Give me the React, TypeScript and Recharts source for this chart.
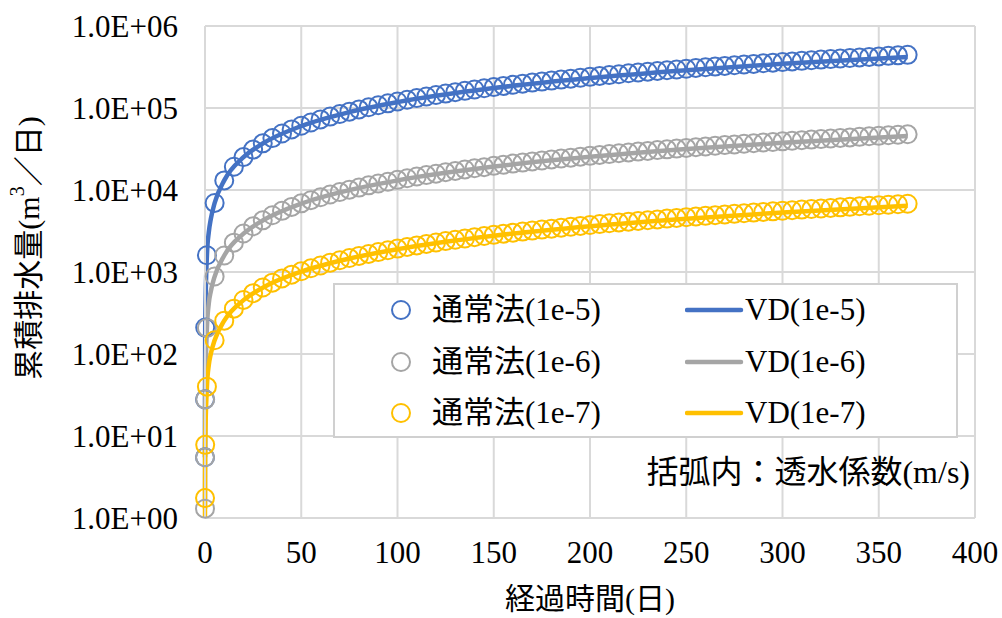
import {
  ComposedChart,
  Line,
  Scatter,
  XAxis,
  YAxis,
  CartesianGrid,
  Legend,
} from 'recharts';

const FONT = "'Liberation Serif', 'Noto Sans CJK JP', serif";

// 経過時間(日) — 通常法の計算点
const days = [
  0.001, 0.01, 0.1, 1,
  5, 10, 15, 20, 25, 30, 35, 40, 45, 50,
  55, 60, 65, 70, 75, 80, 85, 90, 95, 100,
  105, 110, 115, 120, 125, 130, 135, 140, 145, 150,
  155, 160, 165, 170, 175, 180, 185, 190, 195, 200,
  205, 210, 215, 220, 225, 230, 235, 240, 245, 250,
  255, 260, 265, 270, 275, 280, 285, 290, 295, 300,
  305, 310, 315, 320, 325, 330, 335, 340, 345, 350,
  355, 360, 365,
];

// 通常法 累積排水量 (m3)  ※1未満はグラフ範囲外
const normal1e5 = [
  5.5, 28, 210, 1600,
  6950, 13100, 19200, 25200, 31100, 37100, 43000, 48900, 54800, 60700,
  66600, 72600, 78500, 84400, 90300, 96200, 102000, 108000, 114000, 120000,
  126000, 132000, 138000, 144000, 150000, 156000, 162000, 168000, 174000, 180000,
  186000, 192000, 198000, 204000, 210000, 216000, 222000, 228000, 234000, 240000,
  246000, 252000, 258000, 265000, 271000, 277000, 283000, 289000, 295000, 301000,
  308000, 314000, 320000, 326000, 332000, 339000, 345000, 351000, 357000, 363000,
  370000, 376000, 382000, 389000, 395000, 401000, 407000, 414000, 420000, 426000,
  433000, 439000, 445000,
];

const normal1e6 = [
  1.3, 5.5, 28, 208,
  882, 1590, 2280, 2950, 3610, 4270, 4920, 5570, 6220, 6870,
  7510, 8150, 8800, 9440, 10100, 10700, 11400, 12000, 12600, 13300,
  13900, 14600, 15200, 15800, 16500, 17100, 17800, 18400, 19000, 19700,
  20300, 21000, 21600, 22300, 22900, 23600, 24200, 24800, 25500, 26100,
  26800, 27400, 28100, 28700, 29400, 30000, 30700, 31300, 32000, 32600,
  33300, 33900, 34600, 35300, 35900, 36600, 37200, 37900, 38500, 39200,
  39900, 40500, 41200, 41800, 42500, 43200, 43800, 44500, 45200, 45800,
  46500, 47200, 47800,
];

const normal1e7 = [
  0.4, 1.75, 7.8, 40,
  147, 255, 357, 456, 552, 647, 741, 835, 928, 1020,
  1110, 1200, 1300, 1390, 1480, 1570, 1660, 1750, 1840, 1930,
  2020, 2110, 2200, 2290, 2380, 2470, 2560, 2660, 2750, 2840,
  2930, 3020, 3110, 3200, 3290, 3380, 3470, 3560, 3650, 3740,
  3840, 3930, 4020, 4110, 4200, 4290, 4380, 4480, 4570, 4660,
  4750, 4840, 4930, 5030, 5120, 5210, 5300, 5400, 5490, 5580,
  5670, 5770, 5860, 5950, 6050, 6140, 6230, 6330, 6420, 6520,
  6610, 6700, 6800,
];

// VD法の計算点
const vdDays = [0.001, 0.01, 0.1, 1, 2, 3, 5, 10, 20, 30, 50, 75, 100, 150, 200, 250, 300, 365];
const vd1e5 = [5.5, 28, 210, 1600, 3090, 4400, 6940, 13100, 25100, 36900, 60200, 89200, 118000, 175000, 232000, 289000, 346000, 420000];
const vd1e6 = [1.3, 5.5, 28, 208, 420, 579, 881, 1590, 2940, 4250, 6820, 9980, 13100, 19300, 25400, 31600, 37700, 45600];
const vd1e7 = [1.0, 1.75, 7.8, 40, 74, 100, 147, 255, 454, 644, 1010, 1460, 1900, 2770, 3620, 4470, 5320, 6410];

const xTicks = [0, 50, 100, 150, 200, 250, 300, 350, 400];
const yTicks = [1, 10, 100, 1000, 10000, 100000, 1000000];

const labels = ['1e-5', '1e-6', '1e-7'];
const colors = ['#4472C4', '#A5A5A5', '#FFC000'];

const toPoints = (xs: number[], ys: number[]) =>
  xs.map((t, i) => ({ t, v: ys[i] })).filter((p) => p.v >= 1);

const normalSets = [normal1e5, normal1e6, normal1e7].map((ys) => toPoints(days, ys));
const vdSets = [vd1e5, vd1e6, vd1e7].map((ys) => toPoints(vdDays, ys));

const formatY = (v: number) => {
  const exp = Math.round(Math.log10(v));
  return `1.0E+${String(exp).padStart(2, '0')}`;
};

const ringShape = (color: string) => (props: any) =>
  props.cx == null || props.cy == null ? null : (
    <circle cx={props.cx} cy={props.cy} r={9} fill="none" stroke={color} strokeWidth={2} />
  );

const YTitle = (props: any) => {
  const vb = props.viewBox;
  const cx = vb.x + 28;
  const cy = vb.y + vb.height / 2 - 24;
  return (
    <text
      x={cx}
      y={cy}
      transform={`rotate(-90 ${cx} ${cy})`}
      textAnchor="middle"
      dominantBaseline="central"
      fontSize={30}
      fontFamily={FONT}
      fill="#000"
    >
      累積排水量(m<tspan dy={-11} fontSize={20}>3</tspan>
      <tspan dy={11}>／日)</tspan>
    </text>
  );
};

// 凡例（2列×3行、行優先）
const renderLegend = () => (
  <div
    style={{
      position: 'relative',
      width: 625,
      height: 155,
      border: '2px solid #d0d0d0',
      boxSizing: 'border-box',
      background: '#fff',
      fontFamily: FONT,
      fontSize: 31,
      color: '#000',
    }}
  >
    {labels.map((lab, i) => {
      const top = 25 + i * 51.5 - 20;
      return (
        <div key={lab}>
          <svg style={{ position: 'absolute', left: 54, top: top + 8 }} width={24} height={24}>
            <circle cx={12} cy={12} r={9} fill="none" stroke={colors[i]} strokeWidth={2} />
          </svg>
          <div style={{ position: 'absolute', left: 97, top, height: 40, lineHeight: '40px', whiteSpace: 'nowrap' }}>
            通常法({lab})
          </div>
          <svg style={{ position: 'absolute', left: 350, top: top + 16 }} width={60} height={8}>
            <line x1={2} y1={4} x2={56} y2={4} stroke={colors[i]} strokeWidth={4.5} strokeLinecap="round" />
          </svg>
          <div style={{ position: 'absolute', left: 410, top, height: 40, lineHeight: '40px', whiteSpace: 'nowrap' }}>
            VD({lab})
          </div>
        </div>
      );
    })}
  </div>
);

export default function App() {
  return (
    <div
      style={{
        position: 'absolute',
        left: 0,
        top: 0,
        width: 1002,
        height: 618,
        background: '#fff',
        fontFamily: FONT,
      }}
    >
      <ComposedChart width={1002} height={618} margin={{ top: 26, right: 27, bottom: 0, left: 0 }}>
        <CartesianGrid stroke="#d9d9d9" strokeWidth={2} />
        <XAxis
          type="number"
          dataKey="t"
          domain={[0, 400]}
          ticks={xTicks}
          interval={0}
          height={100}
          tickLine={false}
          axisLine={{ stroke: '#d9d9d9', strokeWidth: 2 }}
          tickMargin={17}
          tick={{ fill: '#000', fontSize: 31, fontFamily: FONT }}
          label={{
            value: '経過時間(日)',
            position: 'insideBottom',
            offset: 9,
            fill: '#000',
            fontSize: 30,
            fontFamily: FONT,
          }}
        />
        <YAxis
          type="number"
          scale="log"
          domain={[1, 1000000]}
          ticks={yTicks}
          interval={0}
          width={205}
          tickLine={false}
          axisLine={{ stroke: '#d9d9d9', strokeWidth: 2 }}
          tickMargin={21}
          tickFormatter={formatY}
          tick={{ fill: '#000', fontSize: 31, fontFamily: FONT }}
          label={<YTitle />}
        />
        <Legend
          layout="vertical"
          align="center"
          verticalAlign="middle"
          content={renderLegend}
          wrapperStyle={{ left: 333, top: 283, width: 625, height: 155 }}
        />
        {labels.map((lab, i) => [
          <Scatter
            key={`n-${lab}`}
            name={`通常法(${lab})`}
            data={normalSets[i]}
            dataKey="v"
            shape={ringShape(colors[i])}
            isAnimationActive={false}
          />,
          <Line
            key={`vd-${lab}`}
            name={`VD(${lab})`}
            data={vdSets[i]}
            dataKey="v"
            type="monotone"
            stroke={colors[i]}
            strokeWidth={4.5}
            dot={false}
            activeDot={false}
            isAnimationActive={false}
          />,
        ])}
      </ComposedChart>
      <div
        style={{
          position: 'absolute',
          right: 32,
          top: 453,
          fontSize: 32,
          lineHeight: '38px',
          color: '#000',
          whiteSpace: 'nowrap',
        }}
      >
        括弧内：透水係数(m/s)
      </div>
    </div>
  );
}
